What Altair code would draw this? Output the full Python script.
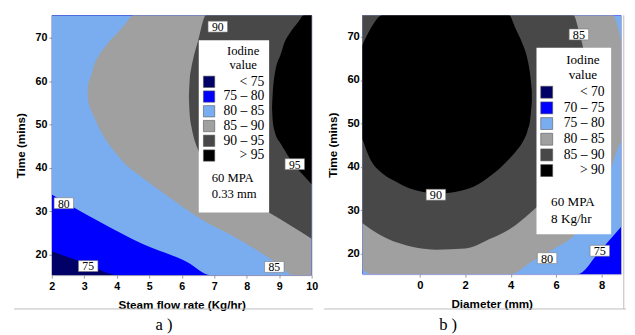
import altair as alt
import pandas as pd

# ---------------- shared ----------------
FILL_A = ["#000066", "#0000ff", "#7aadf0", "#a0a0a0", "#484848", "#000000"]
FILL_B = ["#000066", "#0000ff", "#7aadf0", "#a0a0a0", "#484848", "#000000"]
SERIF = "Liberation Serif"
SANS = "Liberation Sans"
TIME_TICKS = [20, 30, 40, 50, 60, 70]

# ---------------- panel a: Steam flow rate vs Time ----------------
a_flow_domain = [2, 10]
a_time_domain = [15.3, 75.2]
a_flow_ticks = [2, 3, 4, 5, 6, 7, 8, 9, 10]

# contour bands: Iodine value above the level between low and high Time
a75_flow = [2.0, 3.0, 4.05, 10.0]
a75_low = [20.8, 18.1, 15.3, 15.3]
a75_high = [75.2, 75.2, 75.2, 75.2]
a80_flow = [2.0, 2.65, 3.5, 4.8, 6.15, 6.9, 10.0]
a80_low = [33.9, 31.0, 27.5, 22.5, 18.4, 15.3, 15.3]
a80_high = [75.2, 75.2, 75.2, 75.2, 75.2, 75.2, 75.2]
a85_flow = [3.10, 3.12, 3.20, 3.30, 3.50, 3.72, 4.00, 4.25, 4.52, 4.80, 5.40, 6.00, 6.60, 7.65, 8.86, 9.45, 10.0]
a85_low = [57.4, 55.6, 53.5, 51.8, 48.6, 45.9, 43.2, 41.0, 39.3, 37.7, 34.4, 31.2, 28.2, 24.0, 18.4, 15.3, 15.3]
a85_high = [57.4, 59.2, 61.0, 63.7, 66.5, 68.7, 71.0, 73.1, 75.2, 75.2, 75.2, 75.2, 75.2, 75.2, 75.2, 75.2, 75.2]
a90_flow = [6.22, 6.24, 6.30, 6.35, 6.50, 6.75, 7.00, 7.80, 8.70, 10.0]
a90_low = [56.4, 53.0, 49.5, 47.7, 44.3, 41.0, 38.0, 33.5, 29.7, 23.7]
a90_high = [56.4, 59.8, 63.3, 65.1, 69.2, 75.2, 75.2, 75.2, 75.2, 75.2]
a95_flow = [8.78, 8.80, 8.86, 9.06, 9.16, 9.30, 9.60, 9.76, 10.0]
a95_low = [54.0, 51.0, 48.5, 45.5, 44.2, 42.5, 39.5, 38.2, 36.2]
a95_high = [54.0, 57.0, 61.5, 66.5, 68.9, 70.8, 73.8, 75.2, 75.2]

a_lab_text = ["90", "95", "80", "75", "85"]
a_lab_flow = [7.11, 9.48, 2.37, 3.12, 8.85]
a_lab_time = [72.6, 40.9, 31.9, 17.4, 17.2]

a_legend = ["< 75", "75 \u2013 80", "80 \u2013 85", "85 \u2013 90", "90 \u2013 95", "> 95"]
a_notes = ["60 MPA", "0.33 mm"]

# ---------------- panel b: Diameter vs Time ----------------
b_diam_domain = [-2.53, 8.86]
b_time_domain = [15.3, 74.9]
b_diam_ticks = [0, 2, 4, 6, 8]

b75_diam = [-2.53, 6.93, 7.9, 8.86]
b75_low = [15.3, 15.3, 20.5, 26.2]
b75_high = [74.9, 74.9, 74.9, 74.9]
b80_diam = [-2.53, -2.07, 4.0, 4.93, 5.93, 6.79, 7.6, 8.2, 8.5, 8.7, 8.86]
b80_low = [16.3, 15.3, 15.3, 18.2, 21.2, 24.2, 30.0, 36.5, 41.0, 44.0, 46.0]
b80_high = [74.9, 74.9, 74.9, 74.9, 74.9, 74.9, 74.9, 74.9, 74.9, 72.5, 68.9]
b85_diam = [-2.53, -1.7, -0.57, 0.71, 2.0, 3.07, 3.93, 4.93, 5.5, 6.2, 6.76, 7.0, 7.19, 7.4, 7.55]
b85_low = [27.1, 24.2, 21.9, 20.95, 21.2, 23.4, 25.6, 29.75, 32.5, 36.5, 40.0, 42.0, 44.5, 48.5, 55.0]
b85_high = [74.9, 74.9, 74.9, 74.9, 74.9, 74.9, 74.9, 74.9, 74.9, 74.9, 74.9, 71.3, 67.4, 62.0, 57.0]
b90_diam = [-2.53, -2.2, -1.64, -1.0, -0.57, 0.0, 0.86, 1.6, 2.43, 3.07, 3.5, 3.93, 4.2, 4.5, 4.75, 4.86, 4.93]
b90_low = [46.5, 42.0, 38.5, 36.5, 35.3, 34.4, 33.9, 34.3, 35.6, 37.8, 39.6, 41.8, 43.4, 45.5, 48.5, 51.0, 55.0]
b90_high = [68.0, 71.5, 74.9, 74.9, 74.9, 74.9, 74.9, 74.9, 74.9, 74.9, 74.9, 74.9, 72.0, 68.6, 64.5, 61.1, 57.5]

b_lab_text = ["85", "90", "80", "75"]
b_lab_diam = [7.0, 0.71, 5.6, 7.92]
b_lab_time = [70.5, 33.6, 19.0, 20.7]

b_legend = ["< 70", "70 \u2013 75", "75 \u2013 80", "80 \u2013 85", "85 \u2013 90", "> 90"]
b_notes = ["60 MPA", "8 Kg/hr"]


# ---------------- helpers ----------------
def one_row():
    return pd.DataFrame({"k": [0]})


def rect_px(x, x2, y, y2, **kw):
    return alt.Chart(one_row()).mark_rect(**kw).encode(
        x=alt.value(x), x2=alt.value(x2), y=alt.value(y), y2=alt.value(y2))


def text_px(x, y, text, **kw):
    return alt.Chart(one_row()).mark_text(text=text, **kw).encode(x=alt.value(x), y=alt.value(y))


def rule_px(x, x2, y, y2, **kw):
    return alt.Chart(one_row()).mark_rule(**kw).encode(
        x=alt.value(x), x2=alt.value(x2), y=alt.value(y), y2=alt.value(y2))


def mk_axis(values, title, tick, pad, tpad, size):
    return alt.Axis(values=values, title=title, grid=False, domain=False, tickSize=tick,
                    tickColor="#9a9a9a", labelPadding=pad, labelFlush=False, labelFont=SANS,
                    labelFontWeight="bold", labelFontSize=size, labelColor="black",
                    titleFont=SANS, titleFontWeight="bold", titleFontSize=12,
                    titleColor="black", titlePadding=tpad)


def v_area(d, lo, hi, color, xs, ys, xax, yax):
    df = pd.DataFrame({"d": d, "lo": lo, "hi": hi})
    return alt.Chart(df).mark_area(interpolate="monotone", color=color, clip=True).encode(
        x=alt.X("d:Q", scale=xs, axis=xax), y=alt.Y("lo:Q", scale=ys, axis=yax),
        y2="hi:Q")


def contour_labels(xv, yv, texts, xs, ys, xax, yax, fsize):
    df = pd.DataFrame({"x": xv, "y": yv, "t": texts})
    base = alt.Chart(df).encode(x=alt.X("x:Q", scale=xs, axis=xax),
                                y=alt.Y("y:Q", scale=ys, axis=yax))
    box = base.mark_point(shape="M-1,-0.56H1V0.56H-1Z", size=400, filled=True, fill="white",
                          stroke="#777777", strokeWidth=0.6, opacity=1)
    txt = base.mark_text(font=SERIF, fontSize=fsize, color="black", baseline="middle",
                         dy=0.5).encode(text="t:N")
    return [box, txt]


def legend_layers(labels, colors, box, sw_x, row0, dy, lab_right, title_x, title_y0,
                  title_dy, notes, note_x, note_y0, note_dy, fs_lab, fs_title, sw_size):
    layers = [rect_px(box[0], box[1], box[2], box[3], fill="white")]
    for i, (lab, col) in enumerate(zip(labels, colors)):
        y = row0 + i * dy
        layers.append(alt.Chart(one_row()).mark_point(
            shape="square", size=sw_size, filled=True, fill=col, stroke="#555555",
            strokeWidth=0.6, opacity=1).encode(x=alt.value(sw_x), y=alt.value(y)))
        layers.append(text_px(lab_right, y, lab, align="right", baseline="middle", font=SERIF,
                              fontSize=fs_lab, color="black"))
    for j, t in enumerate(["Iodine", "value"]):
        layers.append(text_px(title_x, title_y0 + j * title_dy, t, align="center",
                              baseline="middle", font=SERIF, fontSize=fs_title, color="black"))
    for j, t in enumerate(notes):
        layers.append(text_px(note_x, note_y0 + j * note_dy, t, align="left",
                              baseline="middle", font=SERIF, fontSize=fs_title, color="black"))
    return layers


# ---------------- panel a ----------------
AW, AH = 267, 267
xa = alt.Scale(domain=a_flow_domain, nice=False, zero=False)
ya = alt.Scale(domain=a_time_domain, nice=False, zero=False)
xax_a = mk_axis(a_flow_ticks, "Steam flow rate (Kg/hr)", 3, 3, 8, 11)
yax_a = mk_axis(TIME_TICKS, "Time (mins)", 3, 2, 8, 11)

a_layers = [rect_px(0, AW, 0, AH, fill=FILL_A[0])]
for (ff, lo, hi), col in zip([(a75_flow, a75_low, a75_high), (a80_flow, a80_low, a80_high),
                              (a85_flow, a85_low, a85_high), (a90_flow, a90_low, a90_high),
                              (a95_flow, a95_low, a95_high)], FILL_A[1:]):
    a_layers.append(v_area(ff, lo, hi, col, xa, ya, xax_a, yax_a))
a_layers += contour_labels(a_lab_flow, a_lab_time, a_lab_text, xa, ya, xax_a, yax_a, 12)
a_layers += legend_layers(a_legend, FILL_A, (151, 223.3, 25.5, 202.7), 161.6, 68.3, 15.15,
                          218.3, 196.6, 36.7, 14.5, a_notes, 164.3, 167.3, 16.5, 14, 13, 135)
a_layers += [
    rule_px(-38.7, 268.3, 301.7, 301.7, color="#bbbbbb", strokeWidth=1),
    text_px(115.3, 318, "a\u00a0)", align="center", baseline="middle", font=SERIF,
            fontSize=17, color="black"),
]
panel_a = alt.layer(*a_layers).properties(width=AW, height=AH)

# ---------------- panel b ----------------
BW, BH = 266, 266
xb = alt.Scale(domain=b_diam_domain, nice=False, zero=False)
yb = alt.Scale(domain=b_time_domain, nice=False, zero=False)
xax_b = mk_axis(b_diam_ticks, "Diameter (mm)", 3, 3, 8, 11.5)
yax_b = mk_axis(TIME_TICKS, "Time (mins)", 2, 1, 8, 11.5)

b_layers = [rect_px(0, BW, 0, BH, fill=FILL_B[1])]
for (dd, lo, hi), col in zip([(b75_diam, b75_low, b75_high), (b80_diam, b80_low, b80_high),
                              (b85_diam, b85_low, b85_high), (b90_diam, b90_low, b90_high)],
                             FILL_B[2:]):
    b_layers.append(v_area(dd, lo, hi, col, xb, yb, xax_b, yax_b))
b_layers += contour_labels(b_lab_diam, b_lab_time, b_lab_text, xb, yb, xax_b, yax_b, 12.5)
b_layers += legend_layers(b_legend, FILL_B, (179, 255.7, 33.3, 225), 189.5, 79, 16.1,
                          249, 226.7, 45.7, 15.3, b_notes, 194, 191.7, 17.6, 14, 13.5, 150)
b_layers += [
    rule_px(-39.3, 271, 301.7, 301.7, color="#bbbbbb", strokeWidth=1),
    rule_px(268.7, 268.7, 0, 301.7, color="#bbbbbb", strokeWidth=1),
    text_px(88.2, 318, "b\u00a0)", align="center", baseline="middle", font=SERIF,
            fontSize=17, color="black"),
]
panel_b = alt.layer(*b_layers).properties(width=BW, height=BH)

chart = alt.hconcat(panel_a, panel_b, spacing=4).properties(
    padding={"left": 5, "top": 2, "right": 0, "bottom": 0}
).configure_view(stroke="#c8c8c8", strokeWidth=1)

chart.save("out.html", embed_options={"renderer": "svg", "actions": False})
